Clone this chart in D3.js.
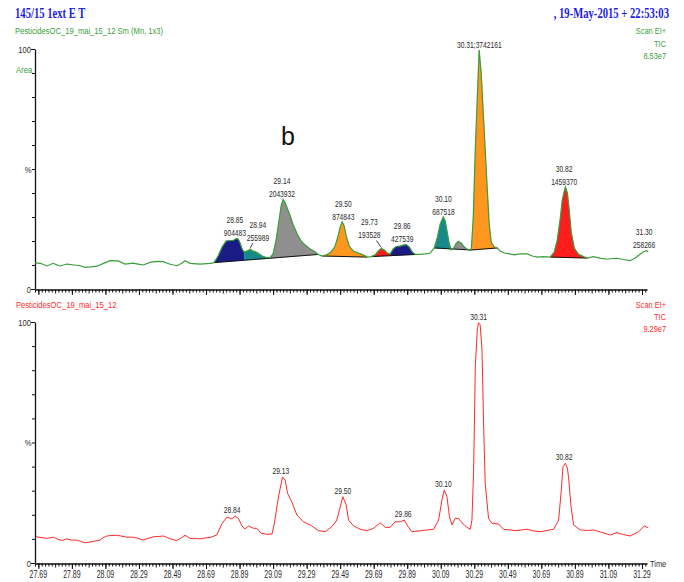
<!DOCTYPE html>
<html><head><meta charset="utf-8">
<script src="https://cdn.jsdelivr.net/npm/d3@7"></script>
<style>html,body{margin:0;padding:0;background:#fff;}svg{display:block;}</style>
</head><body>
<svg id="c" width="684" height="582"></svg>
<script>
// ---------- DATA ----------
// Top trace (smoothed, with peak integration) : retention time (min), relative %
const rtTop = [27.670,27.706,27.742,27.778,27.819,27.861,27.903,27.939,27.969,28.004,28.040,28.082,28.118,28.166,28.207,28.255,28.285,28.315,28.357,28.398,28.434,28.476,28.518,28.547,28.565,28.595,28.655,28.715,
  28.738,28.762,28.786,28.810,28.834,28.852,28.870,28.882,28.893,28.905,28.917,28.935,28.953,28.971,28.989,29.007,29.025,29.049,29.072,
  29.090,29.108,29.126,29.138,29.150,29.162,29.174,29.192,29.210,29.234,29.257,29.281,29.311,29.341,29.359,29.383,
  29.407,29.436,29.460,29.478,29.490,29.502,29.514,29.526,29.544,29.568,29.598,29.627,29.651,
  29.675,29.699,29.717,29.735,29.753,29.771,29.788,29.806,29.824,29.848,29.866,29.884,29.902,29.920,29.938,29.968,29.997,30.027,
  30.051,30.069,30.087,30.105,30.117,30.129,30.141,30.152,30.164,30.182,30.194,30.212,30.230,30.254,30.272,
  30.284,30.296,30.308,30.319,30.331,30.343,30.355,30.367,30.379,30.391,30.409,30.427,
  30.445,30.469,30.499,30.528,30.564,30.606,30.636,30.666,30.701,30.743,
  30.767,30.785,30.803,30.815,30.833,30.845,30.856,30.868,30.886,30.910,30.940,30.964,
  31.000,31.041,31.083,31.113,31.143,31.179,31.220,31.250,31.280,31.298,31.316,31.328];
const pctTop = [11.0,10.6,9.6,10.7,9.6,10.4,10.0,9.7,9.0,9.2,9.5,10.8,11.8,11.7,10.4,10.8,10.4,10.0,11.1,11.5,11.4,10.3,9.7,10.8,11.8,10.7,10.4,10.7,
  11.0,13.75,17.5,20.0,20.2,20.2,21.0,20.8,19.2,16.7,15.4,15.8,16.5,15.8,15.4,14.6,13.75,13.1,13.1,
  14.6,20.4,28.75,34.6,37.3,35.8,33.75,30.4,26.7,22.9,20.0,18.3,16.7,15.4,14.4,13.75,
  14.2,15.4,17.9,22.1,25.8,27.9,26.25,22.1,17.9,15.8,15.0,14.2,13.3,
  13.5,14.2,15.8,16.9,16.25,15.0,14.6,16.7,17.7,17.9,18.3,18.5,17.5,15.4,14.4,14.4,14.6,15.0,
  17.1,21.25,27.1,30.0,28.3,23.3,18.75,16.25,16.7,19.0,19.8,19.2,17.5,16.25,16.25,
  30.0,58.0,80.0,99.6,90.0,74.0,58.0,42.0,27.0,19.5,17.5,17.1,
  15.8,15.0,14.6,14.2,14.6,14.6,13.75,13.3,13.5,13.3,
  15.4,20.4,29.6,37.1,42.5,40.0,32.9,23.75,17.1,14.6,13.5,12.9,
  13.5,12.9,12.4,12.7,12.8,12.3,11.8,12.9,14.6,15.4,16.0,15.6];

// Bottom trace (raw TIC)
const rtBot = [27.676,27.706,27.740,27.780,27.802,27.830,27.859,27.885,27.919,27.945,27.969,27.998,28.028,28.058,28.076,28.098,28.124,28.158,28.183,28.217,28.257,28.285,28.316,28.344,28.376,28.404,28.436,28.458,28.476,28.516,28.541,28.565,28.595,28.625,28.655,28.685,28.715,
  28.754,28.784,28.814,28.844,28.864,28.883,28.904,28.923,28.943,28.973,28.993,29.017,29.053,29.083,
  29.096,29.122,29.146,29.162,29.176,29.202,29.232,29.271,29.311,29.361,29.401,29.441,29.470,29.490,29.506,29.526,29.540,29.570,29.610,29.649,
  29.689,29.729,29.759,29.788,29.818,29.848,29.872,29.898,29.918,29.968,30.009,30.047,
  30.077,30.097,30.111,30.127,30.142,30.157,30.176,30.196,30.216,30.246,30.266,
  30.276,30.286,30.296,30.308,30.315,30.325,30.336,30.345,30.355,30.375,30.395,30.435,30.464,30.504,30.544,30.570,30.604,30.642,30.683,30.725,30.763,
  30.793,30.809,30.819,30.833,30.845,30.852,30.867,30.882,30.922,30.964,31.002,31.041,31.101,31.141,31.179,31.220,31.270,31.304,31.328];
const pctBot = [10.9,10.6,10.2,10.7,10.0,9.3,10.0,9.5,9.5,8.9,8.4,8.7,9.1,9.5,10.4,11.2,11.4,11.5,11.2,10.7,10.7,10.2,9.5,10.2,10.9,11.0,11.2,10.6,10.0,9.3,10.4,11.5,10.2,10.2,10.0,10.4,10.6,
  11.6,16.2,19.0,18.3,19.5,18.5,15.4,14.1,15.4,14.4,14.4,12.4,11.9,12.0,
  15.8,27.4,35.7,34.4,29.0,25.3,19.9,17.1,15.8,13.4,13.0,15.1,17.8,23.2,27.5,24.1,17.8,15.4,14.0,13.4,
  14.4,16.7,14.8,14.8,17.1,17.1,17.8,14.8,13.0,13.4,13.7,14.0,
  17.8,26.1,30.3,27.5,19.2,15.8,18.5,18.5,16.7,14.8,14.0,
  17.8,38.6,81.5,96.9,99.7,98.8,88.4,59.3,33.1,18.5,16.5,16.2,14.0,13.7,13.4,13.7,14.0,13.3,13.0,13.5,14.0,
  17.8,30.3,40.0,41.4,39.4,35.8,23.4,15.8,13.7,13.5,13.7,12.9,11.6,12.6,11.8,11.2,13.0,15.4,14.6];

// Integration groups (shared baselines) and integrated peak segments (top trace)
const grpStart = [28.738, 29.383, 29.675, 30.051, 30.272, 30.743];
const grpEnd   = [29.359, 29.651, 29.938, 30.272, 30.427, 30.964];
const segStart = [28.738, 28.917, 29.072, 29.383, 29.675, 29.788, 30.051, 30.164, 30.272, 30.743];
const segEnd   = [28.917, 29.072, 29.359, 29.651, 29.788, 29.938, 30.164, 30.272, 30.427, 30.964];
const segGroup = [0, 0, 0, 1, 2, 2, 3, 3, 4, 5];

// Peak annotations
const topLabelRT   = [28.85, 28.94, 29.14, 29.50, 29.73, 29.86, 30.10, 30.31, 30.82, 31.30];
const topLabelArea = [904483, 255989, 2043932, 874843, 193528, 427539, 687518, 3742161, 1459370, 258266];
const botLabelRT   = [28.84, 29.13, 29.50, 29.86, 30.10, 30.31, 30.82];

// Axis ticks
const majorTicks = [27.69,27.89,28.09,28.29,28.49,28.69,28.89,29.09,29.29,29.49,29.69,29.89,30.09,30.29,30.49,30.69,30.89,31.09,31.29];
const yTicks = [0,10,20,30,40,50,60,70,80,90,100];

// ---------- STYLE ----------
const segColor = ['#1b1b86','#17898a','#8f8f8f','#ff961e','#ff1c1c','#1b1b86','#17898a','#8f8f8f','#ff961e','#ff1c1c'];
const topLabelDX = [2, 10, 0.5, 1.5, -11, 0, 1, 1.7, 1, 0.5];
const topLabelDY = [-2.5, -8.5, -2.5, -2.5, -10, -3, -2.5, -2, -2.5, -2.6];
const leaderDX   = [null, -5, null, null, 7, null, null, null, null, null];
const GREEN = '#3a9e3a', RED = '#ff2a2a', BLUE = '#1c1ce6', TXT = '#2a2a2a';
const SANS = '"Liberation Sans", Arial, sans-serif';

// ---------- DRAW ----------
const svg = d3.select('#c');
const x = d3.scaleLinear().domain([27.67, 31.32]).range([35, 647]);
const yT = d3.scaleLinear().domain([0, 100]).range([289, 49]);
const yB = d3.scaleLinear().domain([0, 100]).range([563, 322]);

function txt(x0, y0, s, o) {
  svg.append('text')
    .attr('transform', `translate(${x0},${y0}) scale(${o.sx || 0.78},1)`)
    .attr('text-anchor', o.anchor || 'start')
    .attr('font-family', o.family || SANS)
    .attr('font-size', o.size || 9.5)
    .attr('font-weight', o.weight || 'normal')
    .attr('fill', o.color || TXT)
    .text(s);
}

function interp(rts, vals, t) {
  const i = d3.bisectLeft(rts, t);
  if (i <= 0) return vals[0];
  if (i >= rts.length) return vals[vals.length - 1];
  const t0 = rts[i - 1], t1 = rts[i];
  return vals[i - 1] + (vals[i] - vals[i - 1]) * (t - t0) / (t1 - t0);
}
function apex(rts, vals, t, w) {
  let best = -1, bt = t;
  rts.forEach((r, i) => { if (Math.abs(r - t) <= w && vals[i] > best) { best = vals[i]; bt = r; } });
  return [bt, best];
}

// Headers
txt(15, 18, '145/15 1ext E T', {family: '"Liberation Serif", "Times New Roman", serif', weight: 'bold', size: 14, color: BLUE, sx: 0.76});
txt(669, 18, ', 19-May-2015 + 22:53:03', {family: '"Liberation Serif", "Times New Roman", serif', weight: 'bold', size: 14, color: BLUE, sx: 0.76, anchor: 'end'});
txt(15, 34, 'PesticidesOC_19_mai_15_12 Sm (Mn, 1x3)', {color: GREEN, sx: 0.8});
txt(666, 34, 'Scan EI+', {color: GREEN, anchor: 'end'});
txt(666, 46.5, 'TIC', {color: GREEN, anchor: 'end'});
txt(666, 58.5, '8.53e7', {color: GREEN, anchor: 'end'});
txt(16, 72.5, 'Area', {color: GREEN, sx: 0.82});

txt(16, 308, 'PesticidesOC_19_mai_15_12', {color: RED, sx: 0.8});
txt(666, 307.5, 'Scan EI+', {color: RED, anchor: 'end'});
txt(666, 320, 'TIC', {color: RED, anchor: 'end'});
txt(666, 332, '9.29e7', {color: RED, anchor: 'end'});

txt(281, 145, 'b', {size: 25, sx: 1, color: '#111'});

// Y axes
function yAxis(y, labelY) {
  const g = svg.append('g').attr('transform', 'translate(35,0)')
    .call(d3.axisLeft(y).tickValues(yTicks).tickSize(3).tickSizeOuter(0).tickFormat(''));
  g.select('.domain').attr('stroke', '#111').attr('stroke-width', 1.3);
  g.selectAll('.tick line').attr('stroke', '#111');
  g.selectAll('.tick').filter(d => d === 100 || d === 0).select('line').attr('x2', -4);
  txt(31, y(100) + 3.5, '100', {anchor: 'end', sx: 0.8});
  txt(31, y(0) + 3.5, '0', {anchor: 'end', sx: 0.8});
  txt(31.5, y(50) + 3.5, '%', {anchor: 'end', sx: 0.8});
}
yAxis(yT);
yAxis(yB);

// X axes
const minorTicks = d3.range(0, 183).map(i => +(27.67 + i * 0.02).toFixed(2)).filter(v => v <= 31.32);
function xAxis(yPos, labels) {
  const gm = svg.append('g').attr('transform', `translate(0,${yPos})`)
    .call(d3.axisBottom(x).tickValues(minorTicks).tickSize(3).tickSizeOuter(0).tickFormat(''));
  gm.select('.domain').attr('stroke', '#111').attr('stroke-width', 1.5);
  gm.selectAll('.tick line').attr('stroke', '#111');
  gm.selectAll('.tick').filter(d => Math.abs(((d - 27.69) / 0.1) - Math.round((d - 27.69) / 0.1)) < 1e-6).select('line').attr('y2', 4);
  const gM = svg.append('g').attr('transform', `translate(0,${yPos})`)
    .call(d3.axisBottom(x).tickValues(majorTicks).tickSize(5.5).tickSizeOuter(0).tickFormat(''));
  gM.select('.domain').remove();
  gM.selectAll('.tick line').attr('stroke', '#111');
  if (labels) majorTicks.forEach(t => txt(x(t), yPos + 14.5, d3.format('.2f')(t), {anchor: 'middle', size: 10, sx: 0.7}));
}
xAxis(289.5, false);
xAxis(563.5, true);
txt(650, 567, 'Time', {size: 9.5, sx: 0.78});

// Top panel: integrated peak fills
const lineT = d3.line().x(d => x(d[0])).y(d => yT(d[1]));
segStart.forEach((s, k) => {
  const e = segEnd[k], gi = segGroup[k];
  const gs = grpStart[gi], ge = grpEnd[gi];
  const bs = interp(rtTop, pctTop, gs), be = interp(rtTop, pctTop, ge);
  const base = t => bs + (be - bs) * (t - gs) / (ge - gs);
  const pts = [[s, interp(rtTop, pctTop, s)]];
  rtTop.forEach((r, i) => { if (r > s && r < e) pts.push([r, pctTop[i]]); });
  pts.push([e, interp(rtTop, pctTop, e)]);
  pts.push([e, base(e)]);
  pts.push([s, base(s)]);
  svg.append('path').attr('d', lineT(pts) + 'Z').attr('fill', segColor[k]).attr('stroke', segColor[k]).attr('stroke-width', 0.4);
});
grpStart.forEach((gs, gi) => {
  const ge = grpEnd[gi];
  svg.append('line')
    .attr('x1', x(gs)).attr('y1', yT(interp(rtTop, pctTop, gs)))
    .attr('x2', x(ge)).attr('y2', yT(interp(rtTop, pctTop, ge)))
    .attr('stroke', '#111').attr('stroke-width', 1);
});
svg.append('path').datum(rtTop.map((r, i) => [r, pctTop[i]]))
  .attr('d', lineT).attr('fill', 'none').attr('stroke', GREEN).attr('stroke-width', 1.2);

// Bottom panel trace
const lineB = d3.line().x(d => x(d[0])).y(d => yB(d[1]));
svg.append('path').datum(rtBot.map((r, i) => [r, pctBot[i]]))
  .attr('d', lineB).attr('fill', 'none').attr('stroke', RED).attr('stroke-width', 1);

// Top labels
topLabelRT.forEach((t, k) => {
  const [at, av] = apex(rtTop, pctTop, t, 0.03);
  const cx = x(t) + topLabelDX[k];
  const b2 = yT(av) + topLabelDY[k];
  if (t === 30.31) {
    txt(cx, b2, d3.format('.2f')(t) + ';' + topLabelArea[k], {anchor: 'middle', size: 9.3, sx: 0.72});
  } else {
    txt(cx, b2 - 13, d3.format('.2f')(t), {anchor: 'middle', size: 9.3, sx: 0.72});
    txt(cx, b2, String(topLabelArea[k]), {anchor: 'middle', size: 9.3, sx: 0.72});
  }
  if (leaderDX[k] !== null) {
    svg.append('line').attr('x1', cx + leaderDX[k]).attr('y1', b2 + 2)
      .attr('x2', x(at)).attr('y2', yT(av) - 1).attr('stroke', '#111').attr('stroke-width', 0.8);
  }
});

// Bottom labels
botLabelRT.forEach(t => {
  const [, av] = apex(rtBot, pctBot, t, 0.035);
  txt(x(t) + 1, yB(av) - 3, d3.format('.2f')(t), {anchor: 'middle', size: 9.3, sx: 0.72});
});
</script>
</body></html>
